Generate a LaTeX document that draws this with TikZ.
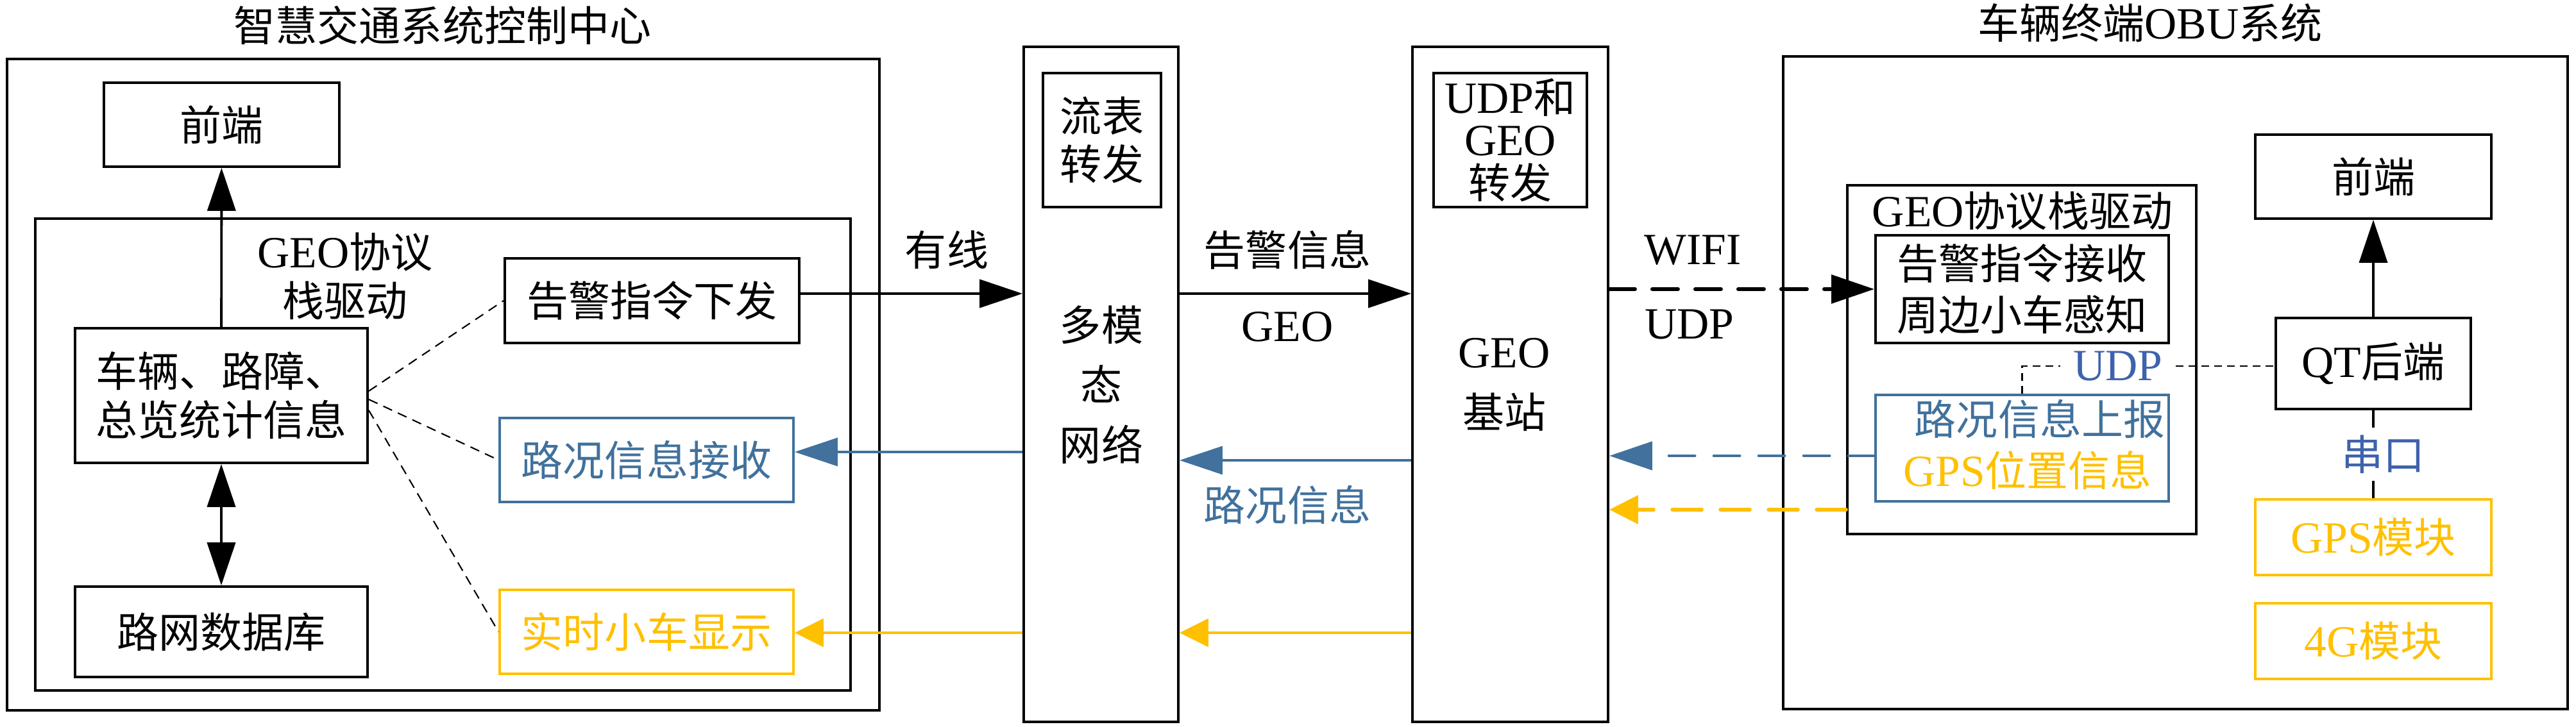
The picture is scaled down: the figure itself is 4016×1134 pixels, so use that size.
\documentclass[tikz,border=0pt]{standalone}
\usepackage{fontspec}
\usepackage{tikz}
\setmainfont{Noto Sans CJK SC}
\newfontfamily\en[Scale=1.07]{Liberation Serif}
\usetikzlibrary{arrows.meta}
\definecolor{roadblue}{RGB}{65,113,156}
\definecolor{udpblue}{RGB}{62,98,172}
\definecolor{gpsyellow}{RGB}{255,192,0}

\begin{document}
\begin{tikzpicture}[x=0.1mm,y=-0.1mm,
    font=\fontsize{18.5pt}{21.5pt}\selectfont,
    box/.style={draw,line width=1.1pt,inner sep=0pt,align=center},
    tip/.style={-{Triangle[length=6.7mm,width=4.4mm]}},
    ytip/.style={-{Triangle[length=4.5mm,width=4.4mm]}},
    link/.style={dash pattern=on 1.5mm off 1mm,line width=0.6pt},
    blk/.style={line width=1.1pt},
    blueline/.style={draw=roadblue,line width=0.9pt},
    yline/.style={draw=gpsyellow,line width=0.9pt},
    wifi/.style={line width=1.7pt,line cap=round,dash pattern=on 4mm off 2.7mm},
    bluedash/.style={draw=roadblue,line width=1.4pt,line cap=round,dash pattern=on 4mm off 3mm},
    ydash/.style={draw=gpsyellow,line width=1.6pt,line cap=round,dash pattern=on 4.6mm off 2.9mm}]
    \useasboundingbox (0,0) rectangle (4016,1134);

    % Control centre
    \node (titleL) at (690,40) {智慧交通系统控制中心};
    \node[box,minimum width=136mm,minimum height=101.6mm] (sysL) at (691,600) {};
    \node[box,minimum width=36.7mm,minimum height=13.1mm] (feL) at (345.5,194.5) {前端};
    \node[box,minimum width=127.1mm,minimum height=73.6mm] (geoL) at (690.5,709) {};
    \node[align=center] (geoLtxt) at (538,431) {{\en GEO}协议\\栈驱动};
    \node[box,minimum width=45.6mm,minimum height=21mm] (infoL) at (345,617) {车辆、路障、\\总览统计信息};
    \node[box,minimum width=45.6mm,minimum height=14.1mm] (dbL) at (345,985.5) {路网数据库};
    \node[box,minimum width=45.9mm,minimum height=13.2mm] (alarmL) at (1016.5,469) {告警指令下发};
    \node[box,draw=roadblue,text=roadblue,minimum width=45.8mm,minimum height=13.1mm] (roadL) at (1008,717.5) {路况信息接收};
    \node[box,draw=gpsyellow,text=gpsyellow,minimum width=45.8mm,minimum height=13.1mm] (carL) at (1008,985.5) {实时小车显示};

    % Network and base station
    \node[box,minimum width=24.1mm,minimum height=105.3mm] (net) at (1716.5,599.5) {};
    \node[box,minimum width=18.4mm,minimum height=20.9mm] (flow) at (1718,218.5) {流表\\转发};
    \node[align=center,font=\fontsize{18.5pt}{26.7pt}\selectfont] (netTxt) at (1717,600) {多模\\态\\网络};
    \node[box,minimum width=30.5mm,minimum height=105.3mm] (bs) at (2354.5,599.5) {};
    \node[box,minimum width=23.9mm,minimum height=20.9mm,font=\fontsize{18.5pt}{19pt}\selectfont] (fwd) at (2354.5,218.5) {{\en UDP}和\\{\en GEO}\\转发};
    \node[align=center,font=\fontsize{18.5pt}{26.7pt}\selectfont] (bsTxt) at (2345,600) {{\en GEO}\\基站};

    % Vehicle OBU
    \node (titleR) at (3352,36) {车辆终端{\en OBU}系统};
    \node[box,minimum width=122.3mm,minimum height=101.8mm] (sysR) at (3391.5,597) {};
    \node[box,minimum width=54.4mm,minimum height=54.4mm] (geoR) at (3152,561) {};
    \node (geoRtxt) at (3153,329) {{\en GEO}协议栈驱动};
    \node[box,minimum width=45.7mm,minimum height=16.8mm,font=\fontsize{18.5pt}{22.8pt}\selectfont] (alarmR) at (3152.5,451) {告警指令接收\\周边小车感知};
    \node[box,draw=roadblue,minimum width=45.7mm,minimum height=16.6mm] (reportR) at (3152.5,699) {};
    \node[text=roadblue] (reportTxt) at (3180,654) {路况信息上报};
    \node[text=gpsyellow] (gpsTxt) at (3161,734) {{\en GPS}位置信息};
    \node[text=udpblue,inner sep=2mm] (udpLbl) at (3302,571) {\en UDP};
    \node[box,minimum width=36.8mm,minimum height=13.1mm] (feR) at (3700,275.5) {前端};
    \node[box,minimum width=30.4mm,minimum height=14.2mm] (qt) at (3700,567) {{\en QT}后端};
    \node[box,draw=gpsyellow,text=gpsyellow,minimum width=36.8mm,minimum height=11.8mm] (gps) at (3700,838) {{\en GPS}模块};
    \node[box,draw=gpsyellow,text=gpsyellow,minimum width=36.8mm,minimum height=11.8mm] (g4) at (3700,1000) {{\en 4G}模块};

    % Link labels
    \node (wireLbl) at (1476,390) {有线};
    \node (alarmLbl) at (2007,390) {告警信息};
    \node (geoLbl) at (2007,510) {\en GEO};
    \node[text=roadblue] (roadLbl) at (2007,788) {路况信息};
    \node (wifiLbl) at (2639,390) {\en WIFI};
    \node (udpLbl2) at (2634,506) {\en UDP};

    % Levels of the links
    \coordinate (alarmY) at (0,458);
    \coordinate (roadY) at (0,718);
    \coordinate (roadInY) at (0,705);
    \coordinate (reportY) at (0,711);
    \coordinate (gpsY) at (0,795);
    \coordinate (carY) at (0,987);

    % Connectors
    \draw[blk,tip] (infoL) -- (feL);
    \draw[blk,{Triangle[length=6.7mm,width=4.4mm]}-{Triangle[length=6.7mm,width=4.4mm]}] (infoL) -- (dbL);
    \draw[link] ([yshift=0.7mm]infoL.east) -- (alarmL.west);
    \draw[link] ([yshift=-0.6mm]infoL.east) -- (roadL.west);
    \draw[link] ([yshift=-2.3mm]infoL.east) -- (carL.west);

    \draw[blk,tip] (alarmL.east |- alarmY) -- (net.west |- alarmY);
    \draw[blk,tip] (net.east |- alarmY) -- (bs.west |- alarmY);
    \draw[wifi,tip] (bs.east |- alarmR.west) -- (alarmR.west);

    \draw[bluedash,tip] (reportR.west |- reportY) -- (bs.east |- reportY);
    \draw[blueline,tip] (bs.west |- roadY) -- (net.east |- roadY);
    \draw[blueline,tip] (net.west |- roadInY) -- (roadL.east |- roadInY);

    \draw[ydash,ytip] (geoR.west |- gpsY) -- (bs.east |- gpsY);
    \draw[yline,ytip] (bs.west |- carY) -- (net.east |- carY);
    \draw[yline,ytip] (net.west |- carY) -- (carL.east |- carY);

    \draw[link,dash pattern=on 1.2mm off 0.8mm] (reportR.north) |- (udpLbl.west);
    \draw[link,dash pattern=on 1.2mm off 0.8mm] (udpLbl.east) -- (udpLbl.east -| qt.west);
    \draw[blk,tip] (qt) -- (feR);
    \draw[blk] (qt) -- (gps) node[midway,fill=white,text=udpblue,xshift=1.5mm] (serialLbl) {串口};
\end{tikzpicture}
\end{document}
